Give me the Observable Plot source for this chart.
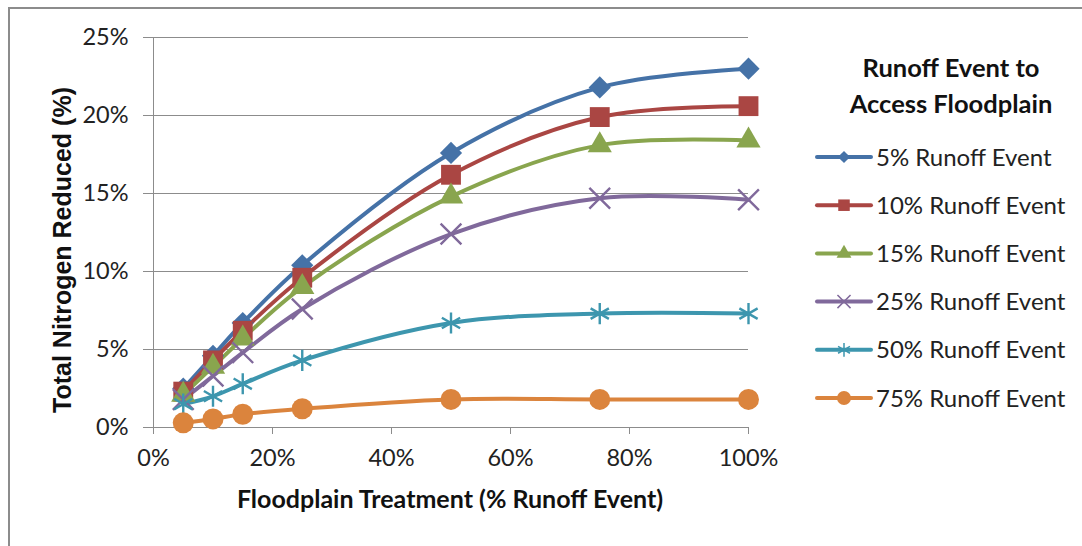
<!DOCTYPE html>
<html>
<head>
<meta charset="utf-8">
<script src="https://cdn.jsdelivr.net/npm/d3@7"></script>
<script src="https://cdn.jsdelivr.net/npm/@observablehq/plot@0.6"></script>
<style>
  html, body { margin: 0; padding: 0; background: #fff; }
  #wrap { position: relative; width: 1082px; height: 546px; overflow: hidden; }
  #frame { position: absolute; left: 8px; top: 7px; width: 1200px; height: 700px;
           border-top: 2px solid #8c8c8c; border-left: 2px solid #8c8c8c; }
  #chart { position: absolute; left: 0; top: 0; }
</style>
</head>
<body>
<div id="wrap"><div id="frame"></div><div id="chart"></div></div>
<script>
// ---- data ----
const treatment = [5, 10, 15, 25, 50, 75, 100];            // Floodplain Treatment (% Runoff Event)
const seriesNames = ["5% Runoff Event", "10% Runoff Event", "15% Runoff Event",
                     "25% Runoff Event", "50% Runoff Event", "75% Runoff Event"];
const event5  = [2.5, 4.6, 6.7, 10.4, 17.6, 21.8, 23.0];
const event10 = [2.3, 4.3, 6.2, 9.6, 16.2, 19.9, 20.6];
const event15 = [2.1, 3.9, 5.7, 9.0, 14.8, 18.1, 18.4];
const event25 = [1.8, 3.3, 4.8, 7.6, 12.4, 14.7, 14.6];
const event50 = [1.5, 2.0, 2.8, 4.3, 6.7, 7.3, 7.3];
const event75 = [0.3, 0.55, 0.85, 1.2, 1.8, 1.8, 1.8];
const xTicks = [0, 20, 40, 60, 80, 100];
const yTicks = [0, 5, 10, 15, 20, 25];
const legendTitle = ["Runoff Event to", "Access Floodplain"];
const xTitle = "Floodplain Treatment (% Runoff Event)";
const yTitle = "Total Nitrogen Reduced (%)";

// ---- styles ----
const colors  = ["#4572A7", "#AA4643", "#89A54E", "#80699B", "#3D96AE", "#DB843D"];
const symbols = ["diamond2", "square", "triangle", "times", "asterisk", "circle"];
const filled  = [true, true, true, false, false, true];
const radii   = [10, 11.2, 9, 9.5, 10, 10.5];
const legendR = [5.5, 6.5, 5.5, 6, 6.5, 7];

const allSeries = [event5, event10, event15, event25, event50, event75];
const rows = [];
allSeries.forEach((vals, si) => vals.forEach((v, i) =>
  rows.push({series: seriesNames[si], idx: si, x: treatment[i], y: v})));

const marks = [
  Plot.gridY(yTicks, {stroke: "#8c8c8c", strokeOpacity: 1, strokeWidth: 1}),
  Plot.ruleX([0], {stroke: "#8c8c8c", strokeWidth: 1}),
  Plot.ruleY([0], {stroke: "#8c8c8c", strokeWidth: 1}),
  Plot.axisY({ticks: yTicks, tickFormat: d => d + "%", tickSize: 10, tickPadding: 15,
              stroke: "#8c8c8c", fill: "#222", fontSize: 23.5, label: null}),
  Plot.axisX({ticks: xTicks, tickFormat: d => d + "%", tickSize: 7, tickPadding: 15,
              stroke: "#8c8c8c", fill: "#222", fontSize: 23.5, label: null})
];
seriesNames.forEach((name, si) => {
  const d = rows.filter(r => r.idx === si);
  marks.push(Plot.line(d, {x: "x", y: "y", stroke: colors[si], strokeWidth: 4, curve: "catmull-rom"}));
});
seriesNames.forEach((name, si) => {
  const d = rows.filter(r => r.idx === si);
  marks.push(Plot.dot(d, filled[si]
    ? {x: "x", y: "y", symbol: () => symbols[si], r: radii[si], fill: colors[si], stroke: "none"}
    : {x: "x", y: "y", symbol: () => symbols[si], r: radii[si], stroke: colors[si], strokeWidth: 2.4, fill: "none"}));
});

const chart = Plot.plot({
  width: 1082, height: 546,
  marginLeft: 153, marginRight: 334, marginTop: 37, marginBottom: 119,
  x: {domain: [0, 100]},
  y: {domain: [0, 25]},
  symbol: {domain: symbols, range: symbols},
  style: {fontFamily: "Lato, 'Open Sans', sans-serif", fontSize: "23.5px", color: "#222", background: "none"},
  marks
});
document.getElementById("chart").appendChild(chart);

// ---- titles & legend ----
const svg = d3.select(chart);
svg.append("text").attr("x", 450).attr("y", 508).attr("text-anchor", "middle")
  .style("font", "bold 25px Lato, sans-serif").attr("fill", "#111").text(xTitle);
svg.append("text").attr("transform", "translate(71,250) rotate(-90)").attr("text-anchor", "middle")
  .style("font", "bold 25px 'Liberation Sans', Arial, sans-serif").attr("fill", "#111").text(yTitle);

legendTitle.forEach((t, i) => svg.append("text").attr("x", 951).attr("y", 77 + i * 36)
  .attr("text-anchor", "middle").style("font", "bold 25.5px Lato, sans-serif").attr("fill", "#111").text(t));

const symMap = {diamond2: d3.symbolDiamond2, square: d3.symbolSquare, triangle: d3.symbolTriangle,
                times: d3.symbolTimes, asterisk: d3.symbolAsterisk, circle: d3.symbolCircle};
seriesNames.forEach((name, si) => {
  const cy = 157 + si * 48.2;
  const g = svg.append("g");
  g.append("line").attr("x1", 817).attr("x2", 871).attr("y1", cy).attr("y2", cy)
    .attr("stroke", colors[si]).attr("stroke-width", 4).attr("stroke-linecap", "round");
  const r = legendR[si];
  const p = g.append("path").attr("transform", `translate(844,${cy})`)
    .attr("d", d3.symbol(symMap[symbols[si]], Math.PI * r * r)());
  if (filled[si]) p.attr("fill", colors[si]);
  else p.attr("fill", "none").attr("stroke", colors[si]).attr("stroke-width", 1.5);
  g.append("text").attr("x", 876).attr("y", cy).attr("dy", "0.36em").attr("text-anchor", "start")
    .style("font", "24px Lato, sans-serif").attr("fill", "#222").text(name);
});
</script>
</body>
</html>
